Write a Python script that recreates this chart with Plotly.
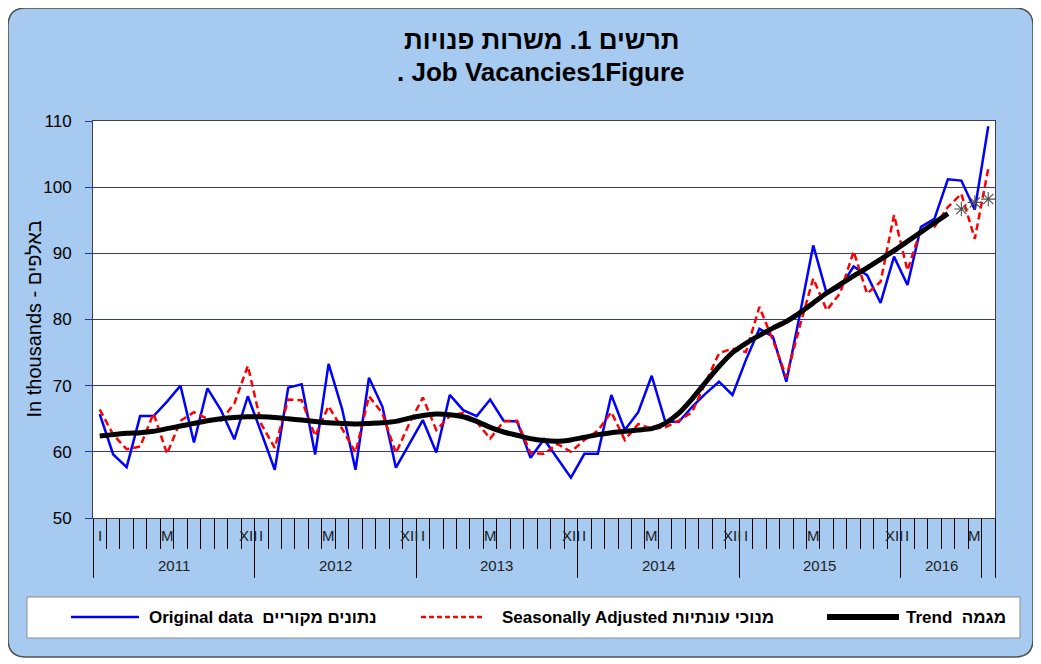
import plotly.graph_objects as go

# ---------------- data ----------------
years = ["2011", "2012", "2013", "2014", "2015", "2016"]
year_center_idx = [5.5, 17.5, 29.5, 41.5, 53.5, 62.5]
year_divider_idx = [-0.5, 11.5, 23.5, 35.5, 47.5, 59.5, 65.5, 66.5]
month_label_idx = [0, 5, 11, 12, 17, 23, 24, 29, 35, 36, 41, 47, 48, 53, 59, 60, 65]
month_label_txt = ["I", "M", "XII", "I", "M", "XII", "I", "M", "XII", "I", "M",
                   "XII", "I", "M", "XII", "I", "M"]

original = [65.7, 59.6, 57.7, 65.4, 65.4, 67.6, 70.0, 61.4, 69.6, 66.3, 61.9, 68.4,
            62.9, 57.3, 69.7, 70.2, 59.6, 73.3, 66.5, 57.3, 71.2, 66.8, 57.6, 61.2,
            64.8, 59.9, 68.6, 66.3, 65.4, 67.9, 64.7, 64.6, 59.1, 61.9, 59.0, 56.1,
            59.7, 59.7, 68.6, 63.3, 66.0, 71.5, 64.6, 64.5, 66.8, 68.8, 70.6, 68.6,
            73.9, 78.6, 77.4, 70.6, 80.7, 91.2, 83.9, 84.9, 88.0, 86.7, 82.5, 89.5,
            85.2, 94.0, 95.2, 101.2, 101.0, 96.6, 109.2]

seasonal = [66.4, 62.6, 60.4, 60.8, 65.8, 59.7, 64.7, 66.0, 65.0, 64.7, 67.3, 73.0,
            64.2, 60.6, 67.9, 67.8, 62.4, 66.9, 63.5, 59.9, 68.4, 65.8, 59.8, 64.3,
            68.2, 63.3, 65.4, 65.9, 64.5, 62.0, 64.6, 64.7, 59.8, 59.7, 61.2, 60.0,
            61.8, 63.2, 66.0, 61.8, 64.2, 63.5, 63.7, 64.7, 66.0, 70.5, 74.9, 75.6,
            75.1, 81.9, 76.9, 71.3, 79.0, 86.2, 81.4, 84.0, 90.3, 83.9, 85.7, 95.8,
            87.4, 93.7, 94.0, 97.0, 99.0, 92.2, 102.8]

trend = [62.4, 62.6, 62.8, 62.9, 63.1, 63.5, 63.9, 64.3, 64.7, 65.0, 65.2, 65.3,
         65.3, 65.2, 65.0, 64.8, 64.6, 64.4, 64.3, 64.2, 64.3, 64.4, 64.6, 65.1,
         65.5, 65.7, 65.6, 65.3, 64.6, 63.7, 63.0, 62.5, 62.0, 61.7, 61.6, 61.8,
         62.2, 62.6, 62.9, 63.1, 63.3, 63.5, 64.3, 65.8, 68.0, 70.5, 72.9, 75.0,
         76.4, 77.6, 78.7, 79.7, 81.0, 82.5, 84.0, 85.3, 86.6, 87.8, 89.1, 90.4,
         91.8, 93.2, 94.6, 96.0]

trend_forecast = [96.7, 97.7, 98.2]

series_names = ["Original data  נתונים מקוריים",
                "Seasonally Adjusted מנוכי עונתיות",
                "Trend  מגמה"]

x_all = list(range(len(original)))
x_trend = list(range(len(trend)))
x_fc = list(range(len(trend), len(trend) + len(trend_forecast)))

# ---------------- geometry helpers (layout only) ----------------
OFF = 8                      # page body margin of the browser
W, H = 1041 - OFF, 664 - OFF
L, R, T, B = 93, 995, 121, 518   # plot area in screenshot pixels
PW, PH = R - L, B - T


def px(xp):
    return (xp - L) / PW


def py(yp):
    return (B - yp) / PH


FONT = "Liberation Sans, Arial, sans-serif"
BLUE, RED, BLACK = "#0000FF", "#FF0000", "#000000"
RED_DASH = "7px,4px"

fig = go.Figure()

fig.add_trace(go.Scatter(
    x=x_all, y=original, mode="lines", name=series_names[0], showlegend=False,
    line=dict(color=BLUE, width=2.5)))
fig.add_trace(go.Scatter(
    x=x_all, y=seasonal, mode="lines", name=series_names[1], showlegend=False,
    line=dict(color=RED, width=2.5, dash=RED_DASH)))
fig.add_trace(go.Scatter(
    x=x_trend, y=trend, mode="lines", name=series_names[2], showlegend=False,
    line=dict(color=BLACK, width=5, shape="spline", smoothing=0.6)))
fig.add_trace(go.Scatter(
    x=x_fc, y=trend_forecast, mode="markers", showlegend=False, name="Trend forecast",
    marker=dict(symbol="asterisk-open", size=12, color="#505050",
                line=dict(color="#505050", width=1.1))))

# ---------------- background shapes ----------------
r = 18
x0, x1, y0, y1 = 8, 1033, 8, 657
path = (f"M {px(x0 + r)},{py(y0)} L {px(x1 - r)},{py(y0)} "
        f"Q {px(x1)},{py(y0)} {px(x1)},{py(y0 + r)} "
        f"L {px(x1)},{py(y1 - r)} Q {px(x1)},{py(y1)} {px(x1 - r)},{py(y1)} "
        f"L {px(x0 + r)},{py(y1)} Q {px(x0)},{py(y1)} {px(x0)},{py(y1 - r)} "
        f"L {px(x0)},{py(y0 + r)} Q {px(x0)},{py(y0)} {px(x0 + r)},{py(y0)} Z")
shapes = [
    dict(type="path", path=path, xref="paper", yref="paper", layer="below",
         fillcolor="#A6CAF0", line=dict(color="#505050", width=1.5)),
    dict(type="rect", xref="paper", yref="paper", x0=0, x1=1, y0=0, y1=1,
         layer="below", fillcolor="white", line=dict(width=0)),
    dict(type="rect", xref="paper", yref="paper", x0=px(27), x1=px(1020),
         y0=py(597), y1=py(638), layer="below", fillcolor="white",
         line=dict(color="#8C8C8C", width=1)),
]

# legend samples (custom legend)
LEG_Y = 617
leg_samples = [(71, 139, BLUE, 2.5, "solid"), (421, 483, RED, 2.5, "5px,3px"),
               (827, 899, BLACK, 6, "solid")]
for xa, xb, c, w, d in leg_samples:
    shapes.append(dict(type="line", xref="paper", yref="paper", x0=px(xa), x1=px(xb),
                       y0=py(LEG_Y), y1=py(LEG_Y), line=dict(color=c, width=w, dash=d)))

# ---------------- annotations ----------------
ann = [
    dict(text="<b>תרשים 1. משרות פנויות</b>", xref="paper", yref="paper",
         x=px(541), y=py(40), xanchor="center", yanchor="middle", showarrow=False,
         font=dict(size=26, family=FONT, color="black")),
    dict(text="<b>. Job Vacancies1Figure</b>", xref="paper", yref="paper",
         x=px(541), y=py(72), xanchor="center", yanchor="middle", showarrow=False,
         font=dict(size=26, family=FONT, color="black")),
    dict(text="In thousands - באלפים", xref="paper", yref="paper", x=px(33), y=0.5,
         xanchor="center", yanchor="middle",
         textangle=-90, showarrow=False, font=dict(size=20, family=FONT, color="black")),
]
for xt, name in zip([147, 500, 904], series_names):
    ann.append(dict(text="<b>" + name + "</b>", xref="paper", yref="paper",
                    x=px(xt), y=py(LEG_Y), xanchor="left", yanchor="middle",
                    showarrow=False, font=dict(size=17, family=FONT, color="black")))
for i, t in zip(month_label_idx, month_label_txt):
    ann.append(dict(text=t, x=i, xref="x", yref="paper", y=py(535), yanchor="middle",
                    showarrow=False, font=dict(size=15, family=FONT, color="#202020")))
for i, t in zip(year_center_idx, years):
    ann.append(dict(text=t, x=i, xref="x", yref="paper", y=py(565), yanchor="middle",
                    showarrow=False, font=dict(size=15, family=FONT, color="#202020")))

fig.update_layout(
    width=W, height=H,
    margin=dict(l=L - OFF, r=W - (R - OFF), t=T - OFF, b=H - (B - OFF), pad=0),
    paper_bgcolor="white", plot_bgcolor="white",
    shapes=shapes, annotations=ann, showlegend=False,
    xaxis=dict(range=[-0.5, 66.5], showgrid=False, zeroline=False,
               showticklabels=False, ticks="outside", tickmode="array",
               tickvals=year_divider_idx, ticklen=59, tickcolor="black", tickwidth=1,
               minor=dict(ticks="outside", tick0=-0.5, dtick=1, ticklen=30,
                          tickcolor="black", tickwidth=1),
               showline=True, linecolor="#404040", linewidth=1, mirror=True),
    yaxis=dict(range=[50, 110], dtick=10, showgrid=True, gridcolor="#3535A5",
               gridwidth=1.3, zeroline=False, ticks="outside", ticklen=7,
               tickcolor="#3030A0", ticklabelstandoff=10,
               tickfont=dict(size=17, family=FONT, color="black"),
               showline=True, linecolor="#404040", linewidth=1, mirror=True),
)

fig.write_html("out.html")
